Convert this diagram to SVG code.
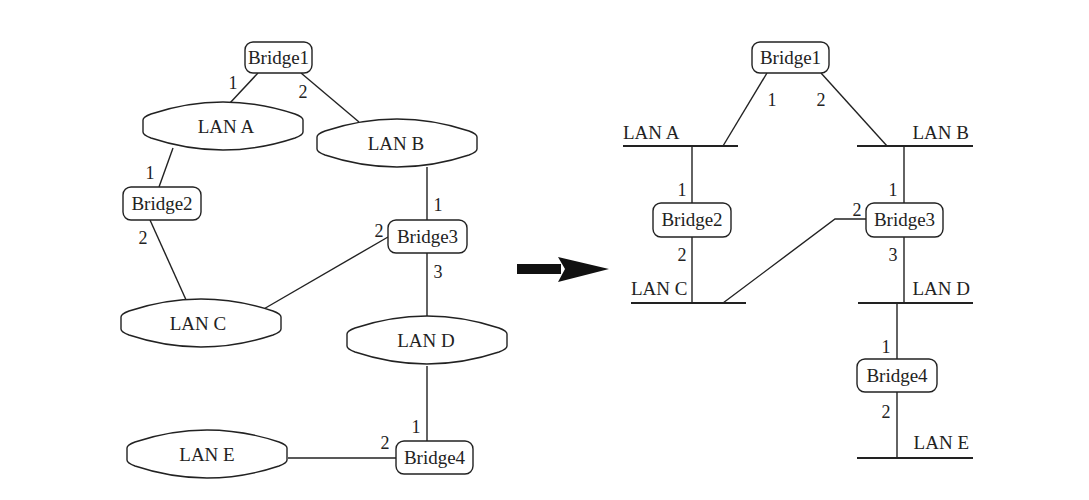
<svg xmlns="http://www.w3.org/2000/svg" xmlns:xlink="http://www.w3.org/1999/xlink" width="1089" height="500" viewBox="0 0 1089 500">
<style>
.ln{stroke:#222;stroke-width:1.4;fill:none}
.bx{fill:#fff;stroke:#222;stroke-width:1.4}
.lan{fill:#fff;stroke:#222;stroke-width:1.4}
.bar{stroke:#222;stroke-width:1.8}
text{font-family:'Liberation Serif','DejaVu Serif',serif;fill:#222}
.t{font-size:19px}
.m{text-anchor:middle}
.e{text-anchor:end}
.d{font-size:18px;text-anchor:middle}
</style>
<defs>
<path id="lan" d="M -80,-6 Q -80,-9 -72,-12 C -45,-21 -20,-24 0,-24 C 20,-24 45,-21 72,-12 Q 80,-9 80,-6 L 80,6 Q 80,9 72,12 C 45,21 20,24 0,24 C -20,24 -45,21 -72,12 Q -80,9 -80,6 Z"/>
</defs>
<rect width="1089" height="500" fill="#fff"/>
<g id="connectors">
<line class="ln" x1="258" y1="73" x2="229" y2="104"/>
<line class="ln" x1="301" y1="73" x2="359" y2="122"/>
<line class="ln" x1="173" y1="148" x2="159" y2="187"/>
<line class="ln" x1="150" y1="220" x2="187" y2="302"/>
<line class="ln" x1="388" y1="237" x2="262" y2="310"/>
<line class="ln" x1="427" y1="167" x2="427" y2="220"/>
<line class="ln" x1="427" y1="253" x2="427" y2="316"/>
<line class="ln" x1="427" y1="366" x2="427" y2="441"/>
<line class="ln" x1="288" y1="458" x2="396" y2="458"/>
<line class="ln" x1="767" y1="73" x2="723" y2="146"/>
<line class="ln" x1="821" y1="73" x2="887" y2="146"/>
<line class="ln" x1="692" y1="146" x2="692" y2="203"/>
<line class="ln" x1="692" y1="237" x2="692" y2="303"/>
<polyline class="ln" points="723,303 835,219 866,219"/>
<line class="ln" x1="904" y1="146" x2="904" y2="203"/>
<line class="ln" x1="904" y1="237" x2="904" y2="303"/>
<line class="ln" x1="897" y1="303" x2="897" y2="359"/>
<line class="ln" x1="897" y1="392" x2="897" y2="458"/>
<g id="arrow">
<rect x="517" y="264" width="44" height="10" fill="#111"/>
<polygon points="558,257 609,269 558,282 565,269" fill="#111"/>
</g>
</g>
<g id="port-labels">
<text class="d" x="233" y="89">1</text>
<text class="d" x="303" y="98">2</text>
<text class="d" x="150" y="179">1</text>
<text class="d" x="143" y="244">2</text>
<text class="d" x="438" y="211">1</text>
<text class="d" x="379" y="237">2</text>
<text class="d" x="438" y="278">3</text>
<text class="d" x="416" y="433">1</text>
<text class="d" x="385" y="449">2</text>
<text class="d" x="772" y="106">1</text>
<text class="d" x="821" y="106">2</text>
<text class="d" x="682" y="196">1</text>
<text class="d" x="682" y="261">2</text>
<text class="d" x="857" y="216">2</text>
<text class="d" x="893" y="196">1</text>
<text class="d" x="893" y="261">3</text>
<text class="d" x="886" y="353">1</text>
<text class="d" x="886" y="418">2</text>
</g>
<g id="L-bridge1"><rect class="bx" x="245" y="42" width="67" height="31" rx="8"/><text class="t m" x="278.5" y="64">Bridge1</text></g>
<g id="L-bridge2"><rect class="bx" x="123" y="187" width="78" height="33" rx="8"/><text class="t m" x="162" y="210">Bridge2</text></g>
<g id="L-bridge3"><rect class="bx" x="388" y="220" width="79" height="33" rx="8"/><text class="t m" x="427.5" y="243">Bridge3</text></g>
<g id="L-bridge4"><rect class="bx" x="396" y="441" width="77" height="33" rx="8"/><text class="t m" x="434.5" y="464">Bridge4</text></g>
<g id="L-lanA" transform="translate(223,126)"><use xlink:href="#lan" class="lan"/><text class="t m" x="3" y="7">LAN A</text></g>
<g id="L-lanB" transform="translate(397,143)"><use xlink:href="#lan" class="lan"/><text class="t m" x="-1" y="7">LAN B</text></g>
<g id="L-lanC" transform="translate(201,323)"><use xlink:href="#lan" class="lan"/><text class="t m" x="-3" y="7">LAN C</text></g>
<g id="L-lanD" transform="translate(427,340)"><use xlink:href="#lan" class="lan"/><text class="t m" x="-1" y="7">LAN D</text></g>
<g id="L-lanE" transform="translate(207,454)"><use xlink:href="#lan" class="lan"/><text class="t m" x="0" y="7">LAN E</text></g>
<g id="R-bridge1"><rect class="bx" x="752" y="42" width="77" height="31" rx="8"/><text class="t m" x="790.5" y="64">Bridge1</text></g>
<g id="R-bridge2"><rect class="bx" x="653" y="203" width="78" height="34" rx="8"/><text class="t m" x="692" y="226">Bridge2</text></g>
<g id="R-bridge3"><rect class="bx" x="866" y="203" width="77" height="34" rx="8"/><text class="t m" x="904.5" y="226">Bridge3</text></g>
<g id="R-bridge4"><rect class="bx" x="857" y="359" width="80" height="33" rx="8"/><text class="t m" x="897" y="382">Bridge4</text></g>
<g id="R-lanA"><line class="bar" x1="623" y1="146" x2="738" y2="146"/><text class="t" x="623" y="139">LAN A</text></g>
<g id="R-lanB"><line class="bar" x1="857" y1="146" x2="973" y2="146"/><text class="t e" x="969" y="139">LAN B</text></g>
<g id="R-lanC"><line class="bar" x1="631" y1="303" x2="746" y2="303"/><text class="t" x="631" y="295">LAN C</text></g>
<g id="R-lanD"><line class="bar" x1="858" y1="303" x2="973" y2="303"/><text class="t e" x="970" y="295">LAN D</text></g>
<g id="R-lanE"><line class="bar" x1="857" y1="458" x2="973" y2="458"/><text class="t e" x="969" y="449">LAN E</text></g>
</svg>
